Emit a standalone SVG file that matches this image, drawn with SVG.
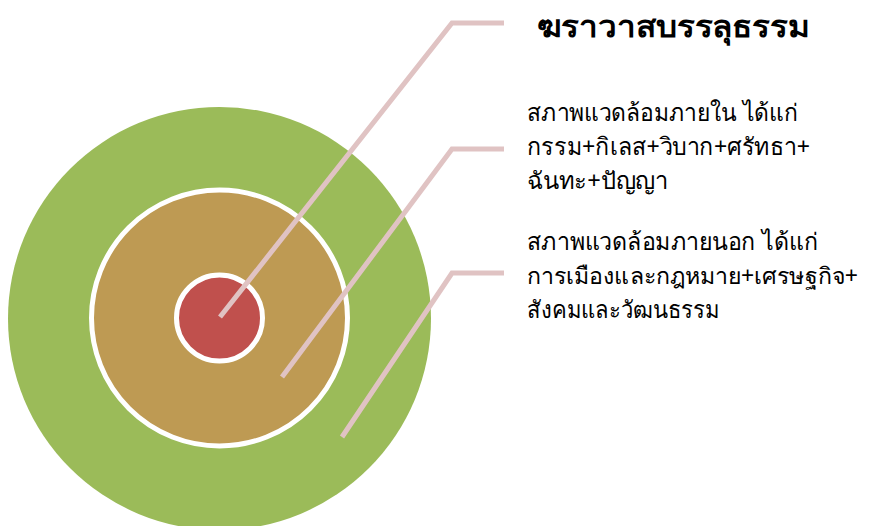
<svg xmlns="http://www.w3.org/2000/svg" width="870" height="526" viewBox="0 0 870 526">
<style>
.ring{stroke:#ffffff;stroke-width:5}
.conn{fill:none;stroke:#e0c3c3;stroke-width:5;stroke-linejoin:miter}
.t{font-family:"Noto Sans","DejaVu Sans","Liberation Sans",sans-serif;fill:#000}
.title{font-size:30px;font-weight:bold}
.body{font-size:24px}
.narrow{font-size:23px}
</style>
<rect width="870" height="526" fill="#ffffff"/>
<g id="outer">
<circle cx="219.5" cy="318.5" r="211.5" fill="#9bbb59"/>
</g>
<g id="middle">
<circle class="ring" cx="219.5" cy="318" r="128" fill="#be9a53"/>
</g>
<g id="inner">
<circle class="ring" cx="219.5" cy="318" r="43" fill="#c0504d"/>
</g>
<g id="connectors">
<polyline class="conn" points="220,317 452,23 504,23"/>
<polyline class="conn" points="282,377 452,149 504,149"/>
<polyline class="conn" points="342,437 452,273 504,273"/>
</g>
<g id="label-title">
<text class="t title" x="537" y="37" textLength="273" lengthAdjust="spacingAndGlyphs">ฆราวาสบรรลุธรรม</text>
</g>
<g id="label-inner-env">
<text class="t body" x="527" y="121" textLength="271" lengthAdjust="spacingAndGlyphs">สภาพแวดล้อมภายใน ได้แก่</text>
<text class="t body" x="527" y="155" textLength="283" lengthAdjust="spacingAndGlyphs">กรรม+กิเลส+วิบาก+ศรัทธา+</text>
<text class="t body" x="527" y="189" textLength="141" lengthAdjust="spacingAndGlyphs">ฉันทะ+ปัญญา</text>
</g>
<g id="label-outer-env">
<text class="t body" x="527" y="250" textLength="291" lengthAdjust="spacingAndGlyphs">สภาพแวดล้อมภายนอก ได้แก่</text>
<text class="t body narrow" x="527" y="284" textLength="331" lengthAdjust="spacingAndGlyphs">การเมืองและกฎหมาย+เศรษฐกิจ+</text>
<text class="t body" x="527" y="318" textLength="193" lengthAdjust="spacingAndGlyphs">สังคมและวัฒนธรรม</text>
</g>
</svg>
